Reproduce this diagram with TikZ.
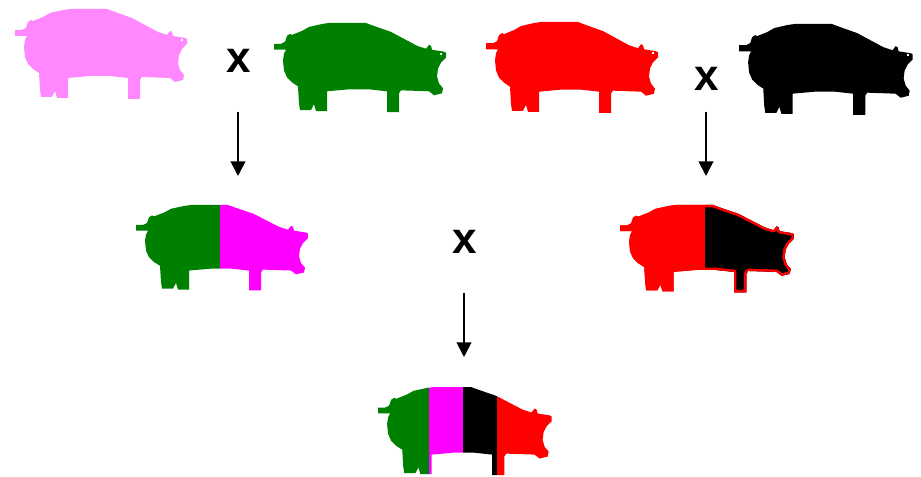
\documentclass[tikz,border=0pt]{standalone}
\usepackage{fontspec}
\setsansfont{Liberation Sans}
\usetikzlibrary{arrows.meta}

\definecolor{pigpink}{HTML}{FF88FF}
\definecolor{piggreen}{HTML}{008000}
\definecolor{pigred}{HTML}{FF0000}
\definecolor{pigmagenta}{HTML}{FF00FF}

% pig silhouette, snout to the right, box 172 x 90
\newcommand{\pigoutline}{
    (0,21) -- (7,21) -- (11,19) -- (13,13) -- (16,11) -- (18,12) -- (28,8)
    -- (35,4) -- (48,1) -- (55,0) -- (92,0) -- (100,3) -- (117,9) -- (130,16)
    -- (143,23) -- (152,26) -- (155,22) -- (157,23) -- (158,27) -- (170,29)
    -- (172,30) -- (172,35) -- (167,40) -- (164,46) -- (163,54) -- (165,61)
    -- (169,66) -- (168,71) -- (160,73) -- (155,69) -- (127,68) -- (125,71)
    -- (125,90) -- (113,90) -- (113,69) -- (95,67) -- (75,67) -- (53,69)
    -- (53,89) -- (42,89) -- (40,82) -- (38,86) -- (37,88) -- (26,88)
    -- (25,81) -- (24,64) -- (18,60) -- (13,55) -- (10,48) -- (9,38)
    -- (10,31) -- (12,27) -- (0,27) -- cycle}

\begin{document}
\begin{tikzpicture}[
    x=0.75pt, y=-0.75pt,
    cross/.style={font=\sffamily\bfseries\fontsize{33}{34}\selectfont, inner sep=0pt},
    descent/.style={-{Triangle[length=11pt, width=11pt]}, line width=1.5pt},
    pics/pig/.style={code={
        \fill[#1] \pigoutline;
        \fill[white] (166,30) rectangle (168,32);
    }},
    pics/halfpig/.style 2 args={code={
        \begin{scope}
            \clip \pigoutline;
            \fill[#1] (-1,-1) rectangle (84,91);
            \fill[#2] (84,-1) rectangle (173,91);
        \end{scope}
    }},
    pics/rimmedpig/.style={code={
        \fill[pigred] \pigoutline;
        \begin{scope}
            \clip \pigoutline;
            \fill[black] (84,-1) rectangle (173,91);
            \draw[pigred, line width=3.5pt, line join=round] \pigoutline;
        \end{scope}
    }},
    pics/crosspig/.style={code={
        \begin{scope}
            \clip \pigoutline;
            \foreach \from/\to/\col in {-1/50/piggreen, 50/84/pigmagenta, 84/118/black, 118/173/pigred}
                \fill[\col] (\from,-1) rectangle (\to,91);
        \end{scope}
    }}
]
    \useasboundingbox (0,0) rectangle (921,477);

    % parents
    \pic at (15,9) {pig=pigpink};
    \pic[yscale=0.99] at (274,23) {pig=piggreen};
    \pic[yscale=1.01] at (486,22) {pig=pigred};
    \pic[xscale=1.01, yscale=1.01] at (739,24) {pig=black};

    % first crosses
    \pic[yscale=0.95] at (136,205) {halfpig={piggreen}{pigmagenta}};
    \pic[xscale=1.01, yscale=0.97] at (620,205) {rimmedpig};

    % final cross
    \pic[xscale=1.01, yscale=0.98] at (378,387) {crosspig};

    \node[cross] (crossA) at (239,61) {x};
    \node[cross] (crossB) at (707,79) {x};
    \node[cross] (crossC) at (465,242) {x};

    \coordinate (dropA) at (238,112);
    \coordinate (landA) at (238,176);
    \coordinate (dropB) at (706,112);
    \coordinate (landB) at (706,176);
    \coordinate (dropC) at (464,293);
    \coordinate (landC) at (464,357);

    \draw[descent] (dropA) -- (landA);
    \draw[descent] (dropB) -- (landB);
    \draw[descent] (dropC) -- (landC);
\end{tikzpicture}
\end{document}
